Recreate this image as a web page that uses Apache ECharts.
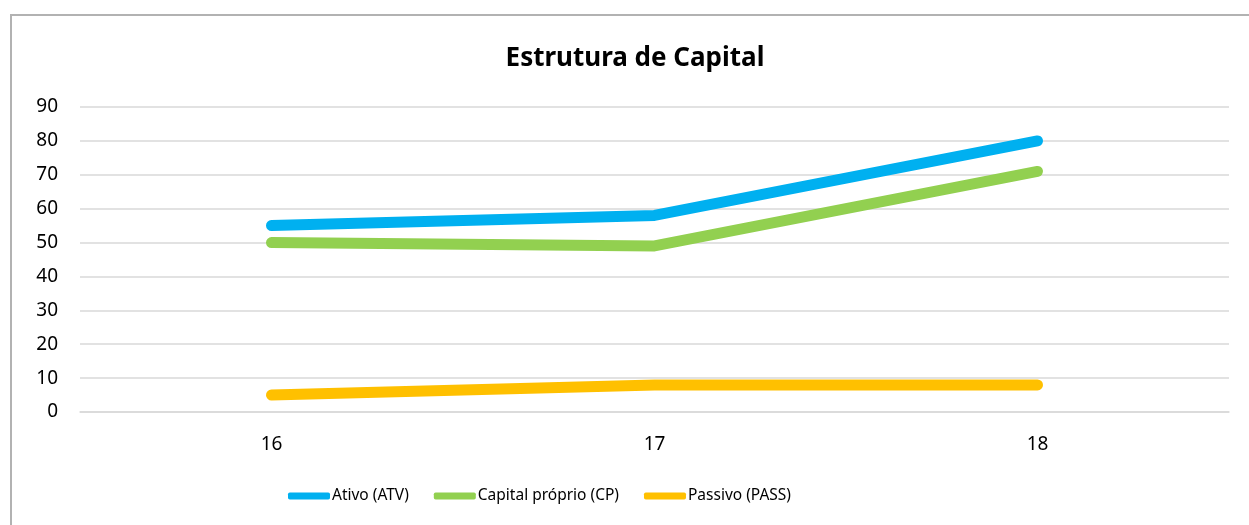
<!DOCTYPE html>
<html>
<head>
<meta charset="utf-8">
<title>Estrutura de Capital</title>
<style>
    html, body { margin: 0; padding: 0; background: #fff; }
    #frame { position: absolute; left: 10px; top: 14px; width: 1300px; height: 600px; border: 2px solid #b2b2b2; }
    #main { position: absolute; left: 0; top: 0; width: 1249px; height: 525px; }
</style>
</head>
<body>
<div id="frame"></div>
<div id="main"></div>
<script src="https://cdn.jsdelivr.net/npm/echarts@6/dist/echarts.min.js"></script>
<script>
    // 数据
    var years = ['16', '17', '18'];
    var ativo = [55, 58, 80];
    var capitalProprio = [50, 49, 71];
    var passivo = [5, 8, 8];

    var fontName = 'Noto Sans';

    var myChart = echarts.init(document.getElementById('main'));

    function lineSeries(name, data, color) {
        return {
            name: name,
            type: 'line',
            data: data,
            symbol: 'none',
            lineStyle: { color: color, width: 11, cap: 'round', join: 'round' },
            itemStyle: { color: color }
        };
    }

    var option = {
        animation: false,
        title: {
            text: 'Estrutura de Capital',
            left: 635,
            top: 46,
            textAlign: 'center',
            padding: 0,
            textStyle: { fontFamily: fontName, fontSize: 26, fontWeight: 'bold', color: '#000' }
        },
        legend: {
            left: 288,
            top: 488,
            padding: 0,
            itemGap: 25,
            itemWidth: 42,
            itemHeight: 7,
            icon: 'roundRect',
            textStyle: { fontFamily: fontName, fontSize: 15.5, color: '#000', padding: [0, 0, 0, -3] },
            data: ['Ativo (ATV)', 'Capital próprio (CP)', 'Passivo (PASS)']
        },
        grid: {
            left: 80,
            top: 107,
            width: 1149,
            height: 305,
            containLabel: false
        },
        xAxis: {
            type: 'category',
            boundaryGap: true,
            data: years,
            axisLine: { lineStyle: { color: '#d9d9d9', width: 1.5 } },
            axisTick: { show: false },
            axisLabel: { margin: 23, fontFamily: fontName, fontSize: 19, color: '#000' }
        },
        yAxis: {
            type: 'value',
            min: 0,
            max: 90,
            interval: 10,
            axisLine: { show: false },
            axisTick: { show: false },
            splitLine: { lineStyle: { color: '#d9d9d9', width: 1.5 } },
            axisLabel: { margin: 22, fontFamily: fontName, fontSize: 19, color: '#000' }
        },
        series: [
            lineSeries('Ativo (ATV)', ativo, '#00b0f0'),
            lineSeries('Capital próprio (CP)', capitalProprio, '#92d050'),
            lineSeries('Passivo (PASS)', passivo, '#ffc000')
        ]
    };

    myChart.setOption(option);
</script>
</body>
</html>
